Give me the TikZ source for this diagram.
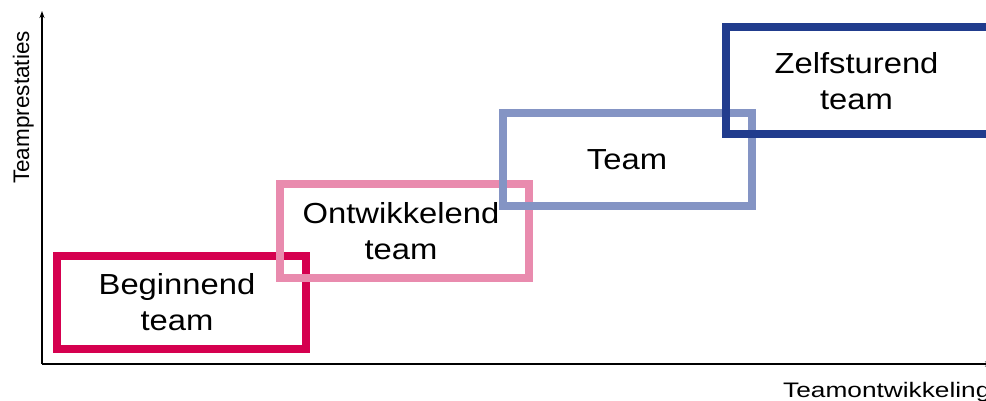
\documentclass[tikz,border=0pt]{standalone}
\usepackage{fontspec}
\setmainfont{Liberation Sans}
\newfontfamily\boxfont{Liberation Sans}[FakeStretch=1.13]
\newfontfamily\labfont{Liberation Sans}[FakeStretch=1.25]
\usetikzlibrary{arrows.meta}
\definecolor{cBeg}{HTML}{D5004F}
\definecolor{cOnt}{HTML}{E98BAE}
\definecolor{cTeam}{HTML}{8494C4}
\definecolor{cZelf}{HTML}{213C8D}
\begin{document}
\begin{tikzpicture}[x=1pt,y=-1pt,
  stagebox/.style={rectangle, draw, line width=8pt, inner sep=0pt, outer sep=0pt, minimum width=249pt},
  stagetext/.style={inner sep=0pt, align=center, font=\boxfont\fontsize{29}{36}\selectfont},
  axisline/.style={line width=1.4pt, -{Stealth[length=7pt,width=5pt]}}]
\useasboundingbox (0,0) rectangle (986,401);
\clip (0,0) rectangle (986,401);
% axes
\coordinate (o) at (42,364);
\coordinate (ytop) at (42,11);
\coordinate (xend) at (992,364);
\draw[axisline] (o) -- (ytop);
\draw[axisline] (o) -- (xend);
\node[rotate=90, anchor=base, inner sep=0pt, font=\fontsize{22.5}{26}\selectfont] (ylab) at (29,107.5) {Teamprestaties};
\node[anchor=base west, inner sep=0pt, font=\labfont\fontsize{21}{24}\selectfont] (xlab) at (783,397) {Teamontwikkeling};
% stage boxes
\node[stagebox, draw=cBeg, minimum height=93pt] (beg) at (181.5,302.5) {};
\node[stagebox, draw=cOnt, minimum height=94pt] (ont) at (404.5,231) {};
\node[stagebox, draw=cTeam, minimum height=93pt] (team) at (627.5,159.5) {};
\node[stagebox, draw=cZelf, minimum width=300pt, minimum height=107pt] (zelf) at (876,80.5) {};
% texts
\node[stagetext] (begt) at (177,302.5) {Beginnend\\team};
\node[stagetext] (ontt) at (401,231) {Ontwikkelend\\team};
\node[stagetext] (teamt) at (627,160) {Team};
\node[stagetext] (zelft) at (856.5,81.6) {Zelfsturend\\team};
\end{tikzpicture}
\end{document}
